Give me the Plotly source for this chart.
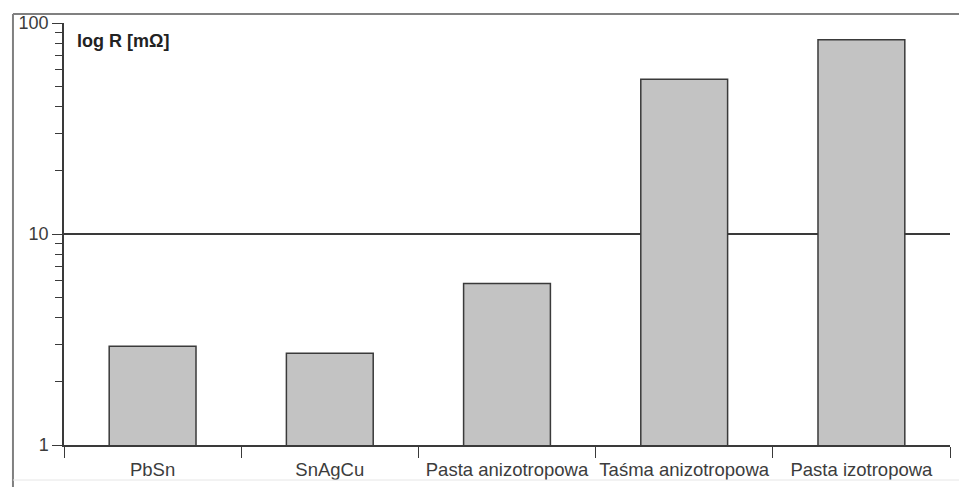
import plotly.graph_objects as go

# Contact resistance of joint materials (log scale, mΩ)
categories = ["PbSn", "SnAgCu", "Pasta anizotropowa", "Taśma anizotropowa", "Pasta izotropowa"]
resistance = [2.94, 2.72, 5.83, 54.2, 83.4]
y_tickvals = [1, 10, 100]
y_ticktext = ["1", "10", "100"]

FONT = "Arial, Liberation Sans, sans-serif"

fig = go.Figure(
    go.Bar(
        x=categories,
        y=resistance,
        marker=dict(color="#c3c3c3", line=dict(color="#3a3a3a", width=1.5)),
        hoverinfo="x+y",
    )
)

fig.update_layout(
    width=959,
    height=487,
    margin=dict(l=64, r=9, t=23, b=42),
    paper_bgcolor="white",
    plot_bgcolor="white",
    bargap=0.51,
    showlegend=False,
    font=dict(family=FONT, color="#3c3c3c"),
)

fig.update_xaxes(
    type="category",
    automargin=False,
    tickangle=0,
    showline=True,
    linecolor="#3a3a3a",
    linewidth=1.5,
    ticks="outside",
    tickson="boundaries",
    ticklen=11,
    tickcolor="#3a3a3a",
    tickwidth=1.2,
    ticklabelstandoff=7,
    tickfont=dict(size=18.5, family=FONT, color="#3c3c3c"),
    showgrid=False,
    zeroline=False,
)

fig.update_yaxes(
    type="log",
    automargin=False,
    range=[0, 2],
    tickmode="array",
    tickvals=y_tickvals,
    ticktext=y_ticktext,
    showline=True,
    linecolor="#3a3a3a",
    linewidth=1.5,
    ticks="outside",
    ticklen=10,
    tickcolor="#3a3a3a",
    tickwidth=1.2,
    tickfont=dict(size=18, family=FONT, color="#3c3c3c"),
    showgrid=True,
    gridcolor="#3a3a3a",
    gridwidth=1.5,
    minor=dict(
        tickmode="array",
        tickvals=[2, 3, 4, 5, 6, 7, 8, 9, 20, 30, 40, 50, 60, 70, 80, 90],
        ticks="outside",
        ticklen=7,
        tickcolor="#3a3a3a",
        tickwidth=1.2,
        showgrid=False,
    ),
    zeroline=False,
)

# Axis title placed inside the plot, top-left
fig.add_annotation(
    text="<b>log R [mΩ]</b>",
    xref="paper", yref="paper",
    x=0.012, y=0.985,
    xanchor="left", yanchor="top",
    showarrow=False,
    font=dict(size=18, family=FONT, color="#222222"),
)

# Outer frame around the figure
fig.add_shape(type="line", xref="paper", yref="paper",
              x0=-0.0576, x1=-0.0576, y0=-0.11, y1=1.0213,
              line=dict(color="#808080", width=2))
fig.add_shape(type="line", xref="paper", yref="paper",
              x0=-0.0576, x1=1.02, y0=1.0213, y1=1.0213,
              line=dict(color="#808080", width=2))
fig.add_shape(type="line", xref="paper", yref="paper",
              x0=-0.0576, x1=1.02, y0=-0.083, y1=-0.083,
              line=dict(color="#e6e6e6", width=1))

fig.write_html("out.html")
